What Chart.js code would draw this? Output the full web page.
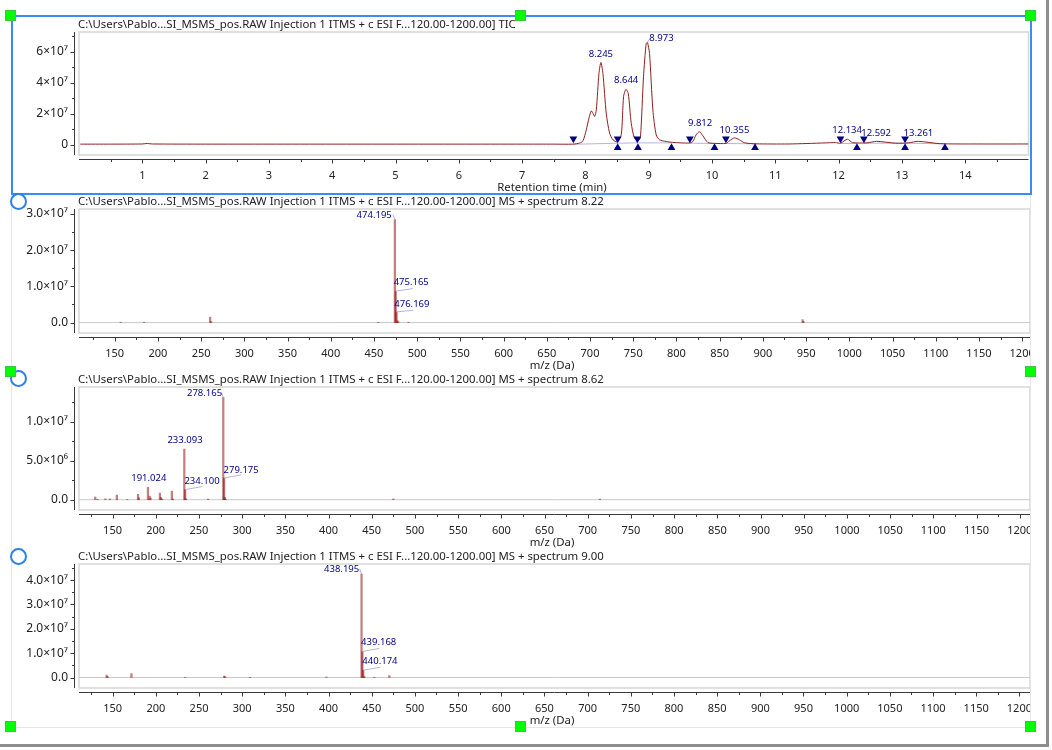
<!DOCTYPE html>
<html lang="en">
<head>
<meta charset="UTF-8" />
<title>LC-MS/MS TIC and spectra</title>
<script src="https://cdn.jsdelivr.net/npm/chart.js"></script>
<style>
  html, body { margin: 0; background: #fff; }
  #page { position: relative; width: 1052px; height: 750px; overflow: hidden; background: #fff; }
  #page canvas { position: absolute; left: 0; }
  .win-right { position: absolute; left: 1046px; top: 0; width: 3px; height: 747px; background: #8e8e8e; }
  .win-bottom { position: absolute; left: 0; top: 744px; width: 1049px; height: 3px; background: #8e8e8e; }
  .frame { position: absolute; left: 11px; top: 16px; width: 1018px; height: 710px; border: 1px solid #e6e6e6; }
  .select { position: absolute; left: 11px; top: 15px; width: 1017px; height: 176px; border: 2px solid #3d8bf0; }
  .handle { position: absolute; width: 9px; height: 9px; background: #0f0; border: 1px solid #3fc43f; }
  .dot { position: absolute; width: 13px; height: 13px; border: 2px solid #2f7fe8; border-radius: 50%; background: #fff; }
</style>
</head>
<body>
<div id="page">
  <div class="win-right"></div>
  <div class="win-bottom"></div>
  <div class="frame"></div>
  <canvas id="tic"></canvas>
  <canvas id="ms1"></canvas>
  <canvas id="ms2"></canvas>
  <canvas id="ms3"></canvas>
  <div class="select"></div>
  <div class="dot" style="left:10px;top:193px"></div>
  <div class="dot" style="left:10px;top:370px"></div>
  <div class="dot" style="left:10px;top:548px"></div>
  <div class="handle" style="left:5px;top:10px"></div>
  <div class="handle" style="left:515px;top:10px"></div>
  <div class="handle" style="left:1025px;top:10px"></div>
  <div class="handle" style="left:5px;top:366px"></div>
  <div class="handle" style="left:1025px;top:366px"></div>
  <div class="handle" style="left:5px;top:721px"></div>
  <div class="handle" style="left:515px;top:721px"></div>
  <div class="handle" style="left:1025px;top:721px"></div>
</div>
<script>
// TIC trace
const ticTimes = [0.02, 0.5, 1.0, 1.08, 1.16, 2, 3, 4, 5, 6, 7, 7.5, 7.804, 7.909, 7.961, 8.014, 8.056, 8.093, 8.119, 8.146, 8.172, 8.214, 8.245, 8.277, 8.329, 8.382, 8.435, 8.503, 8.566, 8.603, 8.640, 8.677, 8.724, 8.776, 8.845, 8.871, 8.918, 8.960, 8.981, 9.013, 9.066, 9.118, 9.171, 9.276, 9.381, 9.644, 9.697, 9.749, 9.802, 9.854, 9.933, 10.038, 10.222, 10.275, 10.354, 10.432, 10.511, 10.695, 11.2, 11.5, 11.8, 11.95, 12.03, 12.14, 12.22, 12.45, 12.6, 12.9, 13.1, 13.26, 13.6, 14.2, 15];
const ticValues = [0.04e7, 0.04e7, 0.05e7, 0.08e7, 0.05e7, 0.04e7, 0.04e7, 0.04e7, 0.04e7, 0.04e7, 0.04e7, 0.04e7, 0.04e7, 0.11e7, 0.25e7, 0.96e7, 1.71e7, 2.18e7, 2.03e7, 1.82e7, 2.24e7, 4.59e7, 5.30e7, 4.59e7, 2.03e7, 0.75e7, 0.32e7, 0.19e7, 0.64e7, 3.10e7, 3.57e7, 3.31e7, 1.39e7, 0.43e7, 0.28e7, 0.53e7, 4.38e7, 6.52e7, 6.58e7, 5.88e7, 2.24e7, 0.64e7, 0.32e7, 0.21e7, 0.15e7, 0.11e7, 0.21e7, 0.64e7, 0.84e7, 0.59e7, 0.15e7, 0.09e7, 0.09e7, 0.25e7, 0.44e7, 0.32e7, 0.13e7, 0.06e7, 0.05e7, 0.08e7, 0.12e7, 0.14e7, 0.10e7, 0.36e7, 0.14e7, 0.12e7, 0.22e7, 0.10e7, 0.12e7, 0.22e7, 0.07e7, 0.05e7, 0.05e7];
// integration baselines, null separates the peak groups
const baseTimes = [7.81, 8.51, 8.83, 9.36, 9.36, 9.65, 10.04, 10.04, 10.22, 10.68, 10.68, 12.03, 12.29, 12.29, 12.4, 13.05, 13.68];
const baseValues = [0.03e7, 0.10e7, 0.12e7, 0.12e7, null, 0.10e7, 0.08e7, null, 0.08e7, 0.06e7, null, 0.08e7, 0.08e7, null, 0.10e7, 0.10e7, 0.06e7];
// peak start and end markers
const startTimes = [7.81, 8.51, 8.82, 9.65, 10.22, 12.03, 12.40, 13.05];
const startLevels = [0.38e7, 0.38e7, 0.38e7, 0.38e7, 0.38e7, 0.38e7, 0.38e7, 0.38e7];
const endTimes = [8.51, 8.83, 9.36, 10.04, 10.68, 12.29, 13.05, 13.68];
const endLevels = [-0.19e7, -0.19e7, -0.19e7, -0.19e7, -0.19e7, -0.19e7, -0.19e7, -0.19e7];
const ticPeakTimes = [8.245, 8.644, 8.973, 9.812, 10.355, 12.134, 12.592, 13.261];
const ticPeakValues = [5.30e7, 3.57e7, 6.58e7, 0.84e7, 0.44e7, 0.36e7, 0.22e7, 0.22e7];
const ticPeakLabels = ['8.245', '8.644', '8.973', '9.812', '10.355', '12.134', '12.592', '13.261'];

// spectrum 8.22
const ms1Mz = [157, 184, 260.5, 261.5, 455, 474.195, 475.165, 476.169, 477.2, 478.1, 490, 946, 947];
const ms1Int = [0.01e7, 0.01e7, 0.15e7, 0.03e7, 0.01e7, 2.85e7, 0.87e7, 0.295e7, 0.05e7, 0.02e7, 0.01e7, 0.08e7, 0.03e7];
const ms1PeakMz = [474.195, 475.165, 476.169];
const ms1PeakInt = [2.85e7, 0.87e7, 0.295e7];
const ms1PeakLabels = ['474.195', '475.165', '476.169'];

// spectrum 8.62
const ms2Mz = [130, 132.6, 141.8, 147, 155, 167, 179.5, 180.5, 191.024, 193, 194, 204.8, 206, 207.5, 218.7, 220, 233.093, 234.1, 235, 260.6, 278.165, 279.175, 280, 281, 475, 714];
const ms2Int = [0.35e6, 0.05e6, 0.12e6, 0.10e6, 0.60e6, 0.03e6, 0.70e6, 0.25e6, 1.60e6, 0.45e6, 0.20e6, 0.85e6, 0.30e6, 0.10e6, 1.10e6, 0.10e6, 6.50e6, 1.30e6, 0.10e6, 0.08e6, 13.15e6, 2.80e6, 0.30e6, 0.05e6, 0.10e6, 0.08e6];
const ms2PeakMz = [191.024, 233.093, 234.100, 278.165, 279.175];
const ms2PeakInt = [1.60e6, 6.50e6, 1.30e6, 13.15e6, 2.80e6];
const ms2PeakLabels = ['191.024', '233.093', '234.100', '278.165', '279.175'];

// spectrum 9.00
const ms3Mz = [143, 144, 171.7, 234, 279, 280.2, 309, 397.6, 438.195, 439.168, 440.174, 441.3, 453, 470.4];
const ms3Int = [0.10e7, 0.04e7, 0.16e7, 0.01e7, 0.06e7, 0.04e7, 0.015e7, 0.02e7, 4.25e7, 1.07e7, 0.30e7, 0.05e7, 0.01e7, 0.08e7];
const ms3PeakMz = [438.195, 439.168, 440.174];
const ms3PeakInt = [4.25e7, 1.07e7, 0.30e7];
const ms3PeakLabels = ['438.195', '439.168', '440.174'];

// tick positions and labels
const ticXMajor = [1, 2, 3, 4, 5, 6, 7, 8, 9, 10, 11, 12, 13, 14];
const ticXMinor = [0.5, 1.5, 2.5, 3.5, 4.5, 5.5, 6.5, 7.5, 8.5, 9.5, 10.5, 11.5, 12.5, 13.5, 14.5];
const mzMajor = [150, 200, 250, 300, 350, 400, 450, 500, 550, 600, 650, 700, 750, 800, 850, 900, 950, 1000, 1050, 1100, 1150, 1200];
const mzMinor = [125, 175, 225, 275, 325, 375, 425, 475, 525, 575, 625, 675, 725, 775, 825, 875, 925, 975, 1025, 1075, 1125, 1175];
const ticYMajor = [0, 2e7, 4e7, 6e7];
const ticYLabels = ['0', '2×10⁷', '4×10⁷', '6×10⁷'];
const ticYMinor = [1e7, 3e7, 5e7, 7e7];
const ms1YMajor = [0, 1e7, 2e7, 3e7];
const ms1YLabels = ['0.0', '1.0×10⁷', '2.0×10⁷', '3.0×10⁷'];
const ms1YMinor = [0.5e7, 1.5e7, 2.5e7];
const ms2YMajor = [0, 5e6, 1e7];
const ms2YLabels = ['0.0', '5.0×10⁶', '1.0×10⁷'];
const ms2YMinor = [2.5e6, 7.5e6, 1.25e7];
const ms3YMajor = [0, 1e7, 2e7, 3e7, 4e7];
const ms3YLabels = ['0.0', '1.0×10⁷', '2.0×10⁷', '3.0×10⁷', '4.0×10⁷'];
const ms3YMinor = [0.5e7, 1.5e7, 2.5e7, 3.5e7, 4.5e7];

const FONT = '"Noto Sans", sans-serif';
const titleHead = 'C:\\Users\\Pablo...SI_MSMS_pos.RAW Injection 1 ITMS + c ESI F...120.00-1200.00] ';

function pts(xs, ys) { return xs.map((x, i) => ({ x: x, y: ys[i] })); }

// box, offset axes, panel title, peak labels
const panelFrame = {
  id: 'panelFrame',
  beforeDatasetsDraw(chart, args, o) {
    const c = chart.ctx, a = chart.chartArea;
    c.save();
    c.strokeStyle = '#d6d6d6';
    c.lineWidth = 1.5;
    c.strokeRect(a.left, a.top, a.right - a.left, a.bottom - a.top);
    if (o.zeroLine) {
      const y0 = chart.scales.y.getPixelForValue(0);
      c.strokeStyle = '#c9c9c9';
      c.lineWidth = 1;
      c.beginPath(); c.moveTo(a.left, y0); c.lineTo(a.right, y0); c.stroke();
    }
    c.restore();
  },
  afterDraw(chart, args, o) {
    const c = chart.ctx, a = chart.chartArea, sx = chart.scales.x, sy = chart.scales.y;
    c.save();
    // axes sit a little away from the box
    c.strokeStyle = '#3a3a3a';
    c.lineWidth = 1;
    const ay = Math.round(a.bottom + 4) + 0.5, ax = 74.5;
    c.beginPath();
    c.moveTo(a.left, ay); c.lineTo(a.right, ay);
    c.moveTo(ax, a.top); c.lineTo(ax, a.bottom);
    o.xMajor.forEach(v => { const p = Math.round(sx.getPixelForValue(v)) + 0.5; c.moveTo(p, ay); c.lineTo(p, ay + 4); });
    o.xMinor.forEach(v => { const p = Math.round(sx.getPixelForValue(v)) + 0.5; c.moveTo(p, ay); c.lineTo(p, ay + 2.5); });
    o.yMajor.forEach(v => { const p = Math.round(sy.getPixelForValue(v)) + 0.5; c.moveTo(ax, p); c.lineTo(ax - 4, p); });
    o.yMinor.forEach(v => { const p = Math.round(sy.getPixelForValue(v)) + 0.5; c.moveTo(ax, p); c.lineTo(ax - 2.5, p); });
    c.stroke();

    c.font = '11.4px ' + FONT;
    c.fillStyle = '#222';
    c.textBaseline = 'middle';
    c.textAlign = 'left';
    c.fillText(o.title, a.left - 1, a.top - 7.5);
    c.textAlign = 'center';
    c.fillText(o.xTitle, o.xTitleCenter, a.bottom + 32.5);

    // peak labels with their small leader lines
    o.peakMz.forEach((v, i) => {
      const px = sx.getPixelForValue(v), py = sy.getPixelForValue(o.peakInt[i]);
      const place = o.placement[i];
      if (place[2] !== undefined) {
        c.strokeStyle = '#b4b4de';
        c.beginPath(); c.moveTo(px, py); c.lineTo(px + place[2], py + place[3]); c.stroke();
      }
      c.fillStyle = '#00008b';
      c.font = '9.5px ' + FONT;
      c.fillText(o.peakLabels[i], px + place[0], py + place[1]);
    });
    c.restore();
  }
};

function makePanel(id, p) {
  const el = document.getElementById(id);
  el.width = p.canvasWidth;
  el.height = p.bottom - p.top;
  el.style.top = p.top + 'px';
  el.style.width = p.canvasWidth + 'px';
  el.style.height = (p.bottom - p.top) + 'px';
  const xLabel = v => { const i = p.xMajor.indexOf(v); return i < 0 ? '' : String(v); };
  const yLabel = v => { const i = p.yMajor.indexOf(v); return i < 0 ? '' : p.yLabels[i]; };
  return new Chart(el, {
    data: { datasets: p.datasets },
    options: {
      responsive: false,
      animation: false,
      events: [],
      layout: { padding: { top: p.boxTop - p.top, left: 0, right: 0, bottom: 0 } },
      plugins: {
        legend: { display: false },
        tooltip: { enabled: false },
        panelFrame: {
          title: titleHead + p.titleTail,
          xTitle: p.xTitle,
          xTitleCenter: p.xTitleCenter,
          zeroLine: p.zeroLine,
          xMajor: p.xMajor, xMinor: p.xMinor, yMajor: p.yMajor, yMinor: p.yMinor,
          peakMz: p.peakX, peakInt: p.peakY, peakLabels: p.peakLabels, placement: p.placement
        }
      },
      scales: {
        x: {
          type: 'linear', position: 'bottom', min: p.xMin, max: p.xMax, offset: false,
          grid: { display: false }, border: { display: false },
          afterBuildTicks: s => { s.ticks = p.xMajor.concat(p.xMinor).sort((a, b) => a - b).map(v => ({ value: v })); },
          afterFit: s => { s.height = p.bottom - p.boxBottom; s.paddingLeft = 0; s.paddingRight = 0; },
          ticks: { autoSkip: false, maxRotation: 0, minRotation: 0, padding: 6, color: '#222', font: { family: FONT, size: 11 }, callback: xLabel }
        },
        y: {
          type: 'linear', position: 'left', min: p.yMin, max: p.yMax,
          grid: { display: false }, border: { display: false },
          afterBuildTicks: s => { s.ticks = p.yMajor.concat(p.yMinor).sort((a, b) => a - b).map(v => ({ value: v })); },
          afterFit: s => { s.width = 79; s.paddingTop = 0; s.paddingBottom = 0; },
          ticks: { autoSkip: false, padding: 3, color: '#222', font: { family: FONT, size: 12 }, callback: yLabel }
        }
      }
    },
    plugins: [panelFrame]
  });
}

function stickSet(xs, ys) {
  return [{ type: 'bar', data: pts(xs, ys), barThickness: 1.6, backgroundColor: 'rgba(139,0,0,0.5)', borderWidth: 0 }];
}

makePanel('tic', {
  canvasWidth: 1033,
  top: 0, bottom: 193, boxTop: 32, boxBottom: 155,
  xMin: 0, xMax: 15, yMin: -0.66e7, yMax: 7.26e7,
  xMajor: ticXMajor, xMinor: ticXMinor, yMajor: ticYMajor, yMinor: ticYMinor, yLabels: ticYLabels,
  titleTail: 'TIC', xTitle: 'Retention time (min)', xTitleCenter: 552, zeroLine: false,
  peakX: ticPeakTimes, peakY: ticPeakValues, peakLabels: ticPeakLabels,
  placement: [[0, -8.6], [0, -8.6], [14.5, -4.7, 3, -4], [0, -8.2], [0, -8], [0, -8.7], [0, -8.3], [0, -8.3]],
  datasets: [
    { type: 'line', data: pts(ticTimes, ticValues), borderColor: '#8f2020', borderWidth: 1, pointRadius: 0, tension: 0.25, order: 2 },
    { type: 'line', data: pts(baseTimes, baseValues), borderColor: '#b4b4e4', borderWidth: 1, pointRadius: 0, order: 3 },
    { type: 'scatter', data: pts(startTimes, startLevels), pointStyle: 'triangle', rotation: 180, pointRadius: 4.5, backgroundColor: '#000080', borderWidth: 0, order: 1 },
    { type: 'scatter', data: pts(endTimes, endLevels), pointStyle: 'triangle', pointRadius: 4.5, backgroundColor: '#000080', borderWidth: 0, order: 1 }
  ]
});

makePanel('ms1', {
  canvasWidth: 1030,
  top: 193, bottom: 371, boxTop: 209, boxBottom: 333,
  xMin: 108.7, xMax: 1209.1, yMin: -0.288e7, yMax: 3.14e7,
  xMajor: mzMajor, xMinor: mzMinor, yMajor: ms1YMajor, yMinor: ms1YMinor, yLabels: ms1YLabels,
  titleTail: 'MS + spectrum 8.22', xTitle: 'm/z (Da)', xTitleCenter: 552, zeroLine: true,
  peakX: ms1PeakMz, peakY: ms1PeakInt, peakLabels: ms1PeakLabels,
  placement: [[-20.7, -4.4, -2, -5], [15.5, -9.2, 17, -2.5], [15.3, -7.9, 16.7, -1.7]],
  datasets: stickSet(ms1Mz, ms1Int)
});

makePanel('ms2', {
  canvasWidth: 1030,
  top: 371, bottom: 548, boxTop: 387, boxBottom: 510,
  xMin: 111.2, xMax: 1211.9, yMin: -1.32e6, yMax: 14.47e6,
  xMajor: mzMajor, xMinor: mzMinor, yMajor: ms2YMajor, yMinor: ms2YMinor, yLabels: ms2YLabels,
  titleTail: 'MS + spectrum 8.62', xTitle: 'm/z (Da)', xTitleCenter: 552, zeroLine: true,
  peakX: ms2PeakMz, peakY: ms2PeakInt, peakLabels: ms2PeakLabels,
  placement: [[0.8, -8.5], [0.7, -8.3], [16.8, -7.9, 17, -3], [-18.7, -4.4, -2, -5], [17, -7.9, 17, -3]],
  datasets: stickSet(ms2Mz, ms2Int)
});

makePanel('ms3', {
  canvasWidth: 1030,
  top: 548, bottom: 726, boxTop: 564, boxBottom: 688,
  xMin: 111, xMax: 1212.3, yMin: -0.43e7, yMax: 4.66e7,
  xMajor: mzMajor, xMinor: mzMinor, yMajor: ms3YMajor, yMinor: ms3YMinor, yLabels: ms3YLabels,
  titleTail: 'MS + spectrum 9.00', xTitle: 'm/z (Da)', xTitleCenter: 552, zeroLine: true,
  peakX: ms3PeakMz, peakY: ms3PeakInt, peakLabels: ms3PeakLabels,
  placement: [[-19.9, -4.2, -2, -5], [16.3, -8.7, 17, -3], [16.7, -9.3, 17, -3]],
  datasets: stickSet(ms3Mz, ms3Int)
});
</script>
</body>
</html>
